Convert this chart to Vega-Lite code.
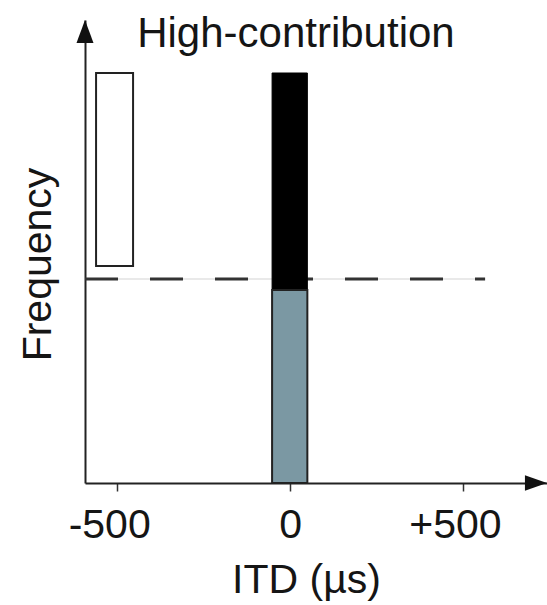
{
  "$schema": "https://vega.github.io/schema/vega-lite/v6.json",
  "width": 462,
  "height": 463,
  "autosize": "none",
  "padding": {"left": 85, "top": 20, "right": 0, "bottom": 122},
  "config": {"view": {"stroke": null}, "font": "Liberation Sans"},
  "layer": [
    {
      "data": {"values": [{"x0": -593, "x1": 564, "y": 204}]},
      "mark": {"type": "rule", "color": "#e2e2e2", "strokeWidth": 1.5},
      "encoding": {
        "x": {"field": "x0", "type": "quantitative", "scale": {"domain": [-593, 743], "nice": false, "zero": false},
          "axis": {
            "title": "ITD (µs)",
            "values": [-500, 0, 500],
            "labelExpr": "datum.value > 0 ? '+' + datum.value : '' + datum.value",
            "labelFont": "Liberation Sans",
            "labelFontSize": 41,
            "labelColor": "#151515",
            "labelBaseline": "alphabetic",
            "labelPadding": 46,
            "labelOffset": {"condition": {"test": "datum.value != 0", "value": -8}, "value": 0},
            "tickSize": 8,
            "tickWidth": 1.5,
            "tickColor": "#333",
            "domainColor": "#222",
            "domainWidth": 2,
            "grid": false,
            "titleFont": "Liberation Sans",
            "titleFontSize": 41,
            "titleFontWeight": "normal",
            "titleColor": "#151515",
            "titleBaseline": "alphabetic",
            "titleAlign": "center",
            "titleX": 221,
            "titleY": 109
          }
        },
        "x2": {"field": "x1"},
        "y": {"field": "y", "type": "quantitative", "scale": {"domain": [0, 463], "nice": false, "zero": false},
          "axis": {
            "title": "Frequency",
            "ticks": false,
            "labels": false,
            "grid": false,
            "domainColor": "#222",
            "domainWidth": 2,
            "titleFont": "Liberation Sans",
            "titleFontSize": 41,
            "titleFontWeight": "normal",
            "titleColor": "#151515",
            "titleBaseline": "alphabetic",
            "titleAlign": "center",
            "titleAngle": 270,
            "titleX": -35,
            "titleY": 244
          }
        }
      }
    },
    {
      "data": {"values": [{"x0": -593, "x1": 564, "y": 204}]},
      "mark": {"type": "rule", "color": "#333", "strokeWidth": 3, "strokeDash": [33, 32]},
      "encoding": {
        "x": {"field": "x0", "type": "quantitative"},
        "x2": {"field": "x1"},
        "y": {"field": "y", "type": "quantitative"}
      }
    },
    {
      "data": {"values": [{"x0": -561, "x1": -454, "y0": 217, "y1": 410}]},
      "mark": {"type": "rect", "fill": "#ffffff", "stroke": "#222", "strokeWidth": 2},
      "encoding": {
        "x": {"field": "x0", "type": "quantitative"},
        "x2": {"field": "x1"},
        "y": {"field": "y0", "type": "quantitative"},
        "y2": {"field": "y1"}
      }
    },
    {
      "data": {"values": [{"x0": -52, "x1": 50, "y0": 194, "y1": 410}]},
      "mark": {"type": "rect", "fill": "#000000", "stroke": "#000", "strokeWidth": 1},
      "encoding": {
        "x": {"field": "x0", "type": "quantitative"},
        "x2": {"field": "x1"},
        "y": {"field": "y0", "type": "quantitative"},
        "y2": {"field": "y1"}
      }
    },
    {
      "data": {"values": [{"x0": -52, "x1": 50, "y0": 0, "y1": 193}]},
      "mark": {"type": "rect", "fill": "#7b98a3", "stroke": "#222", "strokeWidth": 2},
      "encoding": {
        "x": {"field": "x0", "type": "quantitative"},
        "x2": {"field": "x1"},
        "y": {"field": "y0", "type": "quantitative"},
        "y2": {"field": "y1"}
      }
    },
    {
      "data": {"values": [{"x": -593, "y": 451.5}]},
      "mark": {"type": "point", "shape": "M0,-1L0.74,1L-0.74,1Z", "size": 529, "filled": true, "color": "#111", "opacity": 1},
      "encoding": {
        "x": {"field": "x", "type": "quantitative"},
        "y": {"field": "y", "type": "quantitative"}
      }
    },
    {
      "data": {"values": [{"x": 711, "y": 0}]},
      "mark": {"type": "point", "shape": "M1,0L-1,0.7L-1,-0.7Z", "size": 484, "filled": true, "color": "#111", "opacity": 1},
      "encoding": {
        "x": {"field": "x", "type": "quantitative"},
        "y": {"field": "y", "type": "quantitative"}
      }
    },
    {
      "data": {"values": [{"x": 17, "y": 436, "label": "High-contribution"}]},
      "mark": {"type": "text", "font": "Liberation Sans", "fontSize": 42, "color": "#151515", "align": "center", "baseline": "alphabetic"},
      "encoding": {
        "x": {"field": "x", "type": "quantitative"},
        "y": {"field": "y", "type": "quantitative"},
        "text": {"field": "label"}
      }
    }
  ]
}
